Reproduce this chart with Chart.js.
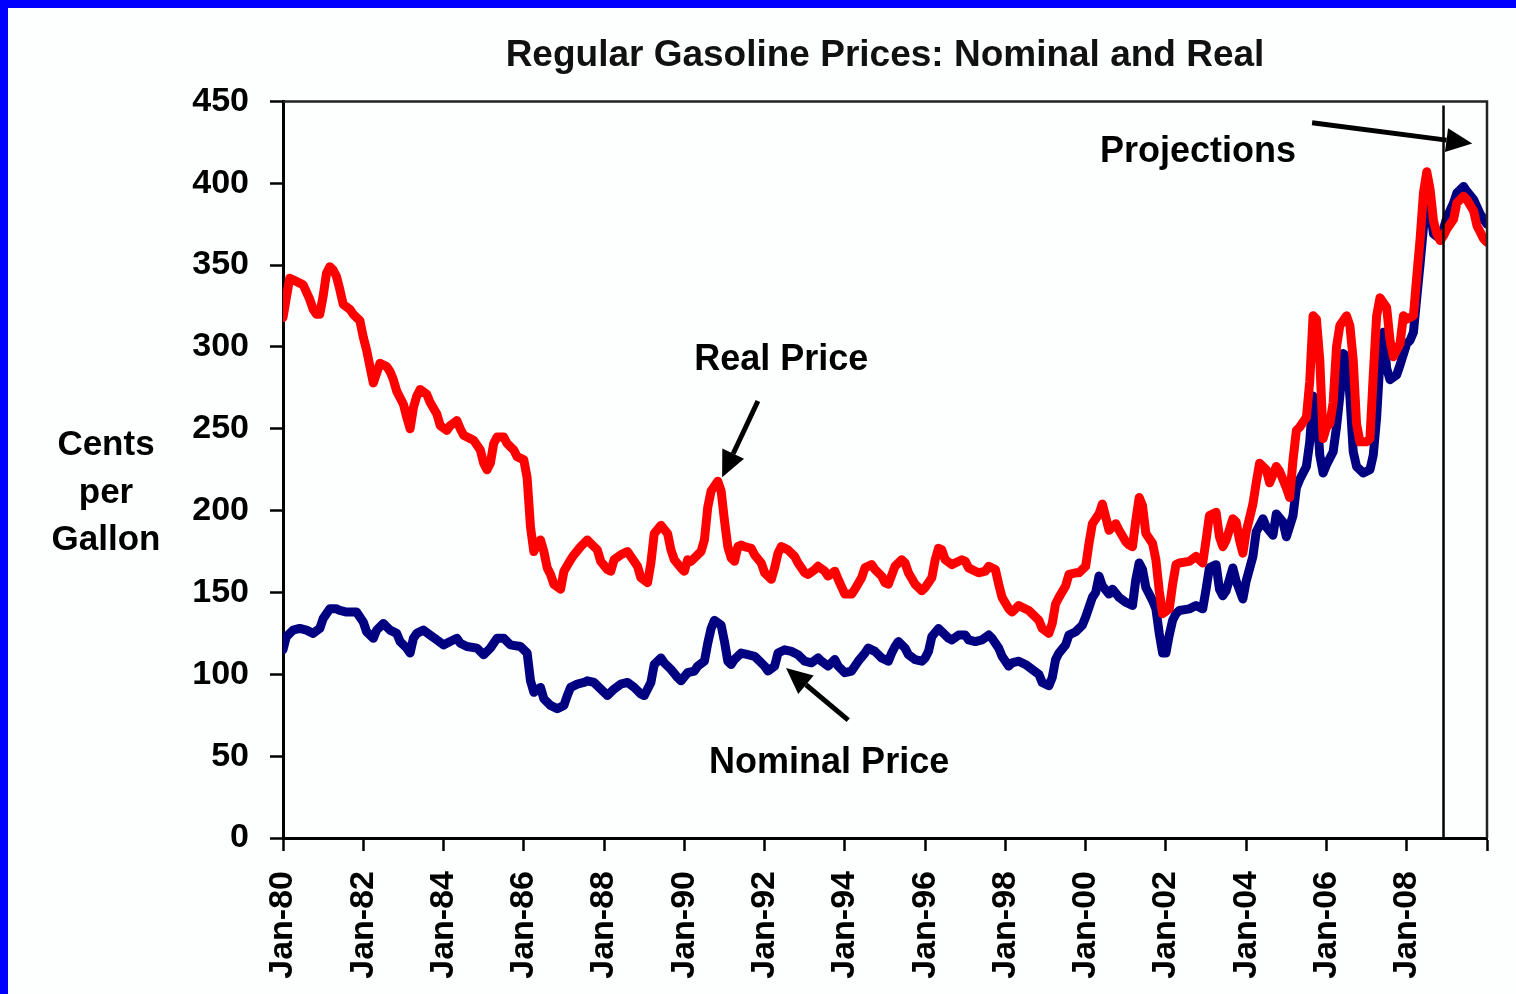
<!DOCTYPE html>
<html>
<head>
<meta charset="utf-8">
<title>Regular Gasoline Prices: Nominal and Real</title>
<script src="https://cdn.jsdelivr.net/npm/chart.js@4.4.1/dist/chart.umd.min.js"></script>
<style>
  html, body { margin: 0; padding: 0; background: #fdfefe; }
  #frame {
    width: 1516px;
    height: 994px;
    box-sizing: border-box;
    border-top: 8px solid #0000ff;
    border-left: 8px solid #0000ff;
  }
  #wrap { position: relative; width: 1508px; height: 986px; }
</style>
</head>
<body>
<div id="frame"><div id="wrap"><canvas id="gasChart"></canvas></div></div>
<script>
'use strict';
// chart data
// months are counted from Jan-80 (0) to Jan-10 (360), prices are cents per gallon
const realMonths = [
  0, 1, 2, 3, 5, 6, 8, 9, 10, 11, 12, 13, 14, 15, 16, 17, 18, 20, 21, 23,
  24, 25, 26, 27, 28, 29, 31, 32, 33, 34, 36, 37, 38, 39, 40, 41, 43, 44, 46, 47,
  49, 50, 52, 53, 54, 56, 57, 59, 60, 61, 62, 63, 64, 66, 67, 69, 70, 72, 73, 74,
  75, 76, 77, 78, 79, 80, 81, 83, 84, 86, 87, 89, 91, 92, 94, 95, 97, 98, 99, 101,
  103, 104, 106, 107, 109, 110, 111, 113, 115, 116, 117, 119, 120, 121, 122, 124, 125, 126, 127, 128,
  130, 131, 132, 133, 134, 135, 136, 137, 138, 140, 141, 143, 144, 146, 147, 148, 149, 151, 153, 154,
  156, 157, 159, 160, 162, 163, 165, 166, 168, 170, 171, 173, 174, 176, 177, 179, 180, 181, 183, 185,
  186, 187, 189, 191, 192, 194, 195, 196, 197, 198, 200, 201, 203, 204, 205, 207, 208, 210, 211, 213,
  214, 215, 217, 218, 220, 221, 223, 224, 226, 227, 229, 230, 231, 232, 234, 235, 237, 238, 240, 241,
  242, 244, 245, 246, 247, 249, 250, 252, 253, 254, 255, 256, 257, 258, 260, 261, 262, 263, 265, 266,
  267, 268, 271, 273, 275, 276, 277, 279, 280, 281, 282, 284, 285, 286, 287, 288, 290, 291, 292, 294,
  295, 297, 298, 300, 301, 302, 303, 304, 306, 307, 308, 309, 310, 311, 312, 313, 314, 315, 316, 318,
  319, 320, 321, 322, 324, 325, 326, 327, 328, 330, 331, 332, 334, 335, 336, 338, 339, 340, 341, 342,
  343, 344, 345, 346, 347, 348, 350, 351, 353, 354, 356, 357, 359, 360
];
const realCents = [
  318, 330, 342, 341, 339, 338, 329, 323, 320, 320, 331, 345, 349, 347, 343, 335, 326, 323, 320, 316,
  306, 298, 288, 278, 284, 290, 288, 285, 280, 273, 265, 257, 250, 263, 270, 274, 271, 266, 259, 252,
  249, 252, 255, 250, 246, 244, 243, 237, 229, 225, 229, 241, 245, 245, 241, 237, 233, 231, 220, 190,
  175, 180, 182, 175, 165, 161, 155, 152, 163, 170, 173, 178, 182, 180, 176, 169, 164, 163, 170, 173,
  175, 172, 166, 159, 156, 168, 186, 191, 186, 176, 170, 165, 163, 170, 169, 173, 175, 182, 202, 212,
  218, 212, 194, 178, 171, 169, 178, 179, 178, 177, 173, 168, 162, 158, 165, 174, 178, 176, 172, 168,
  162, 161, 164, 166, 163, 160, 163, 158, 149, 149, 152, 159, 165, 167, 164, 160, 156, 155, 166, 170,
  168, 162, 155, 151, 153, 159, 170, 177, 176, 170, 167, 168, 170, 169, 165, 163, 162, 163, 166, 164,
  155, 147, 140, 138, 142, 141, 139, 137, 133, 128, 125, 131, 143, 147, 154, 161, 162, 162, 166, 180,
  192, 198, 204, 196, 188, 192, 188, 181, 179, 178, 194, 208, 203, 186, 180, 170, 151, 137, 140, 155,
  167, 168, 169, 172, 168, 182, 197, 199, 184, 178, 182, 195, 193, 182, 174, 187, 204, 217, 229, 225,
  217, 227, 224, 214, 208, 231, 249, 251, 257, 279, 319, 317, 292, 244, 251, 253, 266, 300, 313, 319,
  313, 292, 253, 242, 242, 244, 283, 319, 330, 324, 304, 294, 302, 319, 317, 319, 343, 366, 394, 407,
  396, 377, 369, 365, 368, 372, 378, 388, 392, 390, 383, 374, 366, 364
];
const nominalMonths = [
  0, 1, 3, 5, 7, 9, 11, 12, 14, 16, 17, 19, 22, 24, 25, 27, 28, 30, 32, 34,
  35, 37, 38, 39, 40, 42, 44, 46, 48, 50, 52, 53, 55, 58, 60, 62, 64, 66, 68, 71,
  73, 74, 75, 77, 78, 80, 82, 84, 85, 86, 88, 90, 91, 93, 95, 97, 99, 101, 103, 105,
  107, 108, 110, 111, 113, 114, 116, 118, 119, 121, 123, 124, 126, 127, 128, 129, 131, 132, 133, 134,
  135, 137, 139, 141, 142, 144, 145, 147, 148, 150, 152, 154, 156, 158, 160, 161, 163, 165, 166, 168,
  170, 172, 174, 175, 177, 179, 181, 182, 183, 184, 186, 187, 189, 191, 192, 193, 194, 196, 197, 199,
  200, 202, 204, 205, 207, 209, 211, 212, 214, 215, 217, 218, 220, 222, 224, 226, 227, 229, 230, 231,
  232, 234, 235, 237, 239, 240, 241, 242, 243, 244, 245, 247, 248, 250, 252, 254, 255, 256, 257, 258,
  260, 261, 262, 263, 264, 265, 266, 267, 268, 271, 273, 275, 276, 277, 279, 280, 281, 282, 284, 285,
  287, 288, 290, 291, 293, 294, 296, 297, 299, 300, 302, 303, 304, 306, 307, 308, 309, 310, 311, 312,
  314, 315, 316, 317, 318, 319, 320, 321, 323, 325, 326, 327, 328, 329, 330, 331, 333, 334, 336, 337,
  338, 339, 340, 341, 342, 343, 344, 346, 347, 348, 350, 351, 353, 354, 356, 358, 360
];
const nominalCents = [
  115, 123, 127, 128, 127, 125, 128, 134, 140, 140, 139, 138, 138, 132, 126, 122, 127, 131, 127, 125,
  120, 116, 113, 122, 125, 127, 124, 121, 118, 120, 122, 119, 117, 116, 112, 116, 122, 122, 118, 117,
  113, 96, 89, 92, 85, 81, 79, 81, 87, 92, 94, 95, 96, 95, 91, 87, 91, 94, 95, 92,
  88, 87, 95, 106, 110, 107, 103, 98, 96, 101, 102, 105, 108, 119, 128, 133, 130, 120, 108, 106,
  109, 113, 112, 111, 109, 105, 102, 105, 113, 115, 114, 112, 108, 107, 110, 108, 105, 109, 105, 101,
  102, 108, 113, 116, 114, 110, 108, 113, 117, 120, 116, 112, 109, 108, 110, 114, 123, 128, 126, 122,
  121, 124, 124, 121, 120, 121, 124, 122, 116, 111, 105, 107, 108, 106, 103, 100, 95, 93, 98, 109,
  113, 118, 124, 126, 130, 135, 141, 147, 150, 160, 154, 149, 152, 147, 144, 142, 158, 168, 164, 153,
  145, 140, 125, 113, 113, 124, 133, 137, 139, 140, 142, 140, 152, 165, 167, 152, 148, 151, 165, 157,
  146, 157, 172, 187, 195, 190, 185, 198, 193, 184, 197, 214, 219, 227, 242, 270, 266, 234, 223, 228,
  236, 251, 270, 296, 294, 270, 236, 227, 223, 225, 234, 257, 292, 309, 287, 280, 283, 289, 302, 304,
  309, 330, 351, 373, 395, 385, 369, 366, 372, 379, 388, 394, 398, 395, 390, 381, 375
];
const xTickLabels = [
  'Jan-80', 'Jan-82', 'Jan-84', 'Jan-86', 'Jan-88', 'Jan-90', 'Jan-92', 'Jan-94',
  'Jan-96', 'Jan-98', 'Jan-00', 'Jan-02', 'Jan-04', 'Jan-06', 'Jan-08', ''
];
const monthsPerTick = 24;
const projectionStart = 347; // month where the projections begin

// look
const FONT = "'Liberation Sans', Arial, Helvetica, sans-serif";
const realColor = '#ff0000';
const nominalColor = '#000080';

// notes and arrows, placed in data units (month, cents)
const notes = [
  { text: 'Real Price', month: 149, cents: 286 },
  { text: 'Nominal Price', month: 163.3, cents: 40 },
  { text: 'Projections', month: 273.6, cents: 413 },
];
const arrows = [
  { from: [142, 267], to: [131.3, 220.4] },
  { from: [169, 72], to: [150.4, 103.8] },
  { from: [307.7, 437], to: [355.6, 424.3] },
];
const yTitleLines = ['Cents', 'per', 'Gallon'];

//functions
function toPoints(months, cents) {
  const points = [];
  for (let i = 0; i < months.length; i++) {
    points.push({ x: months[i], y: cents[i] });
  }
  return points;
}

function drawArrow(ctx, x1, y1, x2, y2) {
  const angle = Math.atan2(y2 - y1, x2 - x1);
  const headLen = 26;
  const headHalf = 12;
  // shaft stops where the head starts
  const sx = x2 - Math.cos(angle) * headLen;
  const sy = y2 - Math.sin(angle) * headLen;
  ctx.lineWidth = 5;
  ctx.beginPath();
  ctx.moveTo(x1, y1);
  ctx.lineTo(sx, sy);
  ctx.stroke();
  ctx.beginPath();
  ctx.moveTo(x2, y2);
  ctx.lineTo(sx - Math.sin(angle) * headHalf, sy + Math.cos(angle) * headHalf);
  ctx.lineTo(sx + Math.sin(angle) * headHalf, sy - Math.cos(angle) * headHalf);
  ctx.closePath();
  ctx.fill();
}

// frame, projection line, notes and the y title
const extrasPlugin = {
  id: 'extras',
  afterDatasetsDraw(chart) {
    const { ctx, chartArea, scales } = chart;
    const xs = scales.x;
    const ys = scales.y;
    ctx.save();

    ctx.strokeStyle = '#222';
    ctx.lineWidth = 2.5;
    ctx.beginPath();
    ctx.moveTo(chartArea.left, chartArea.top);
    ctx.lineTo(chartArea.right, chartArea.top);
    ctx.lineTo(chartArea.right, chartArea.bottom);
    ctx.stroke();

    const px = xs.getPixelForValue(projectionStart);
    ctx.strokeStyle = '#000';
    ctx.lineWidth = 2.5;
    ctx.beginPath();
    ctx.moveTo(px, chartArea.top + 4);
    ctx.lineTo(px, chartArea.bottom);
    ctx.stroke();

    ctx.fillStyle = '#000';
    ctx.font = 'bold 36px ' + FONT;
    ctx.textAlign = 'center';
    ctx.textBaseline = 'alphabetic';
    notes.forEach(function (note) {
      ctx.fillText(note.text, xs.getPixelForValue(note.month), ys.getPixelForValue(note.cents));
    });

    arrows.forEach(function (a) {
      drawArrow(ctx,
        xs.getPixelForValue(a.from[0]), ys.getPixelForValue(a.from[1]),
        xs.getPixelForValue(a.to[0]), ys.getPixelForValue(a.to[1]));
    });

    // y axis title, three flat lines left of the axis
    ctx.font = 'bold 35px ' + FONT;
    const tx = chartArea.left - 177;
    for (let i = 0; i < yTitleLines.length; i++) {
      ctx.fillText(yTitleLines[i], tx, chartArea.top + 354 + i * 47.5);
    }
    ctx.restore();
  }
};

const ctx = document.getElementById('gasChart').getContext('2d');
new Chart(ctx, {
  type: 'line',
  data: {
    datasets: [
      {
        label: 'Real Price',
        data: toPoints(realMonths, realCents),
        borderColor: realColor,
        backgroundColor: realColor,
      },
      {
        label: 'Nominal Price',
        data: toPoints(nominalMonths, nominalCents),
        borderColor: nominalColor,
        backgroundColor: nominalColor,
      },
    ],
  },
  options: {
    responsive: true,
    maintainAspectRatio: false,
    animation: false,
    devicePixelRatio: 1,
    layout: { padding: { left: 155, right: 29, top: 0, bottom: 0 } },
    elements: {
      point: { radius: 0, hoverRadius: 0 },
      line: { borderWidth: 9, tension: 0, borderJoinStyle: 'round', borderCapStyle: 'round' },
    },
    plugins: {
      legend: { display: false },
      tooltip: { enabled: false },
      title: {
        display: true,
        text: 'Regular Gasoline Prices: Nominal and Real',
        fullSize: false,
        color: '#111',
        font: { family: FONT, size: 37, weight: 'bold' },
        padding: { top: 26, bottom: 23 },
      },
    },
    scales: {
      x: {
        type: 'linear',
        min: 0,
        max: 360,
        afterFit: function (scale) {
          // the rotated labels should not push the plot in from the sides
          scale.height = 156;
          scale.paddingLeft = 0;
          scale.paddingRight = 0;
        },
        ticks: {
          stepSize: monthsPerTick,
          autoSkip: false,
          minRotation: 90,
          maxRotation: 90,
          padding: 20,
          color: '#000',
          font: { family: FONT, size: 34, weight: 'bold' },
          callback: function (value) {
            return xTickLabels[Math.round(value / monthsPerTick)];
          },
        },
        grid: { drawOnChartArea: false, drawTicks: true, tickLength: 13, tickColor: '#000', tickWidth: 2.5 },
        border: { display: true, color: '#000', width: 3 },
      },
      y: {
        min: 0,
        max: 450,
        afterFit: function (scale) { scale.width = 120; },
        ticks: {
          stepSize: 50,
          padding: 21,
          color: '#000',
          font: { family: FONT, size: 34, weight: 'bold' },
        },
        grid: { drawOnChartArea: false, drawTicks: true, tickLength: 13, tickColor: '#000', tickWidth: 2.5 },
        border: { display: true, color: '#000', width: 3 },
      },
    },
  },
  plugins: [extrasPlugin],
});
</script>
</body>
</html>
